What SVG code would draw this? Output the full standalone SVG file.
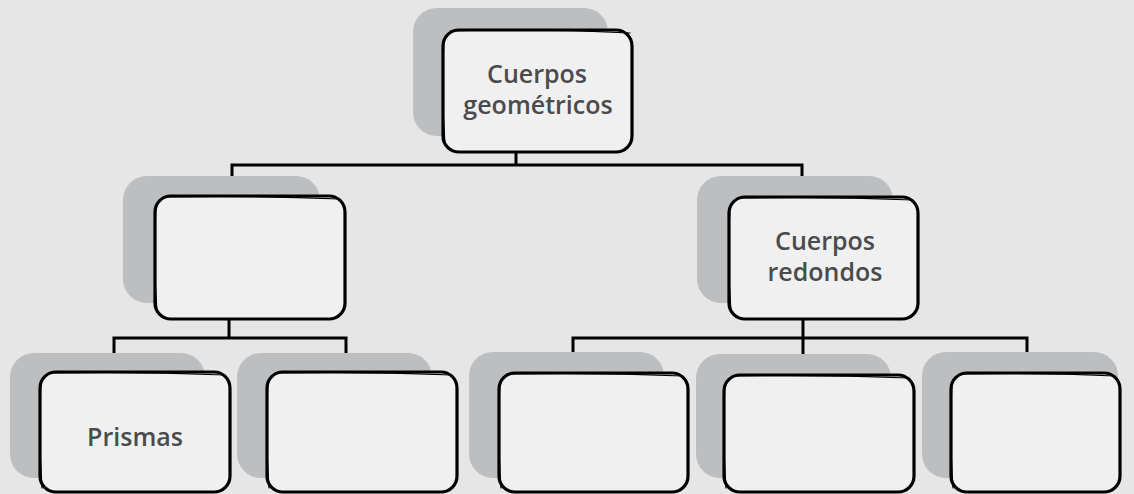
<svg xmlns="http://www.w3.org/2000/svg" width="1134" height="494" viewBox="0 0 1134 494">
<style>
.bg{fill:#e6e6e6}
.sh{fill:#bdbec0}
.bx{fill:#f0f0f0;stroke:#000;stroke-width:3.2;stroke-linejoin:round}
.sk{fill:none;stroke:#000;stroke-width:1.2;stroke-linecap:round}
.ln{fill:none;stroke:#000;stroke-width:3;stroke-linecap:square}
.t{font-family:"Open Sans","Noto Sans","Liberation Sans",sans-serif;font-size:25px;font-weight:600;fill:#4b4b4d;text-anchor:middle}
</style>
<rect class="bg" x="0" y="0" width="1134" height="494"/>
<g id="connectors">
<path class="ln" d="M516 152 V165 M232 165 H802 M232 165 V196 M802 165 V197"/>
<path class="ln" d="M229 319 V338 M114 338 H346 M114 338 V372 M346 338 V372"/>
<path class="ln" d="M803 319 V338 M573 338 H1027 M573 338 V373 M803 338 V375 M1027 338 V373"/>
</g>
<g id="node-top">
<rect class="sh" x="413" y="8" width="195" height="128" rx="24"/>
<rect class="bx" x="443" y="30" width="189" height="122" rx="16"/>
<path class="sk" d="M450 31 Q540 28 630 33 M444 40 Q441 90 445 145"/>
<text class="t" x="537" y="83">Cuerpos</text>
<text class="t" x="538" y="114">geométricos</text>
</g>
<g id="node-left">
<rect class="sh" x="123" y="176" width="197" height="127" rx="24"/>
<rect class="bx" x="155" y="196" width="190" height="123" rx="16"/>
<path class="sk" d="M163 197 Q250 195 340 199 M156 206 Q153 260 157 312"/>
</g>
<g id="node-right">
<rect class="sh" x="697" y="176" width="196" height="127" rx="24"/>
<rect class="bx" x="729" y="197" width="189" height="122" rx="16"/>
<path class="sk" d="M737 198 Q825 196 913 200 M730 207 Q727 260 731 312"/>
<text class="t" x="825" y="250">Cuerpos</text>
<text class="t" x="825" y="281">redondos</text>
</g>
<g id="node-b1">
<rect class="sh" x="10" y="353" width="195" height="125" rx="24"/>
<rect class="bx" x="40" y="372" width="190" height="120" rx="16"/>
<path class="sk" d="M48 373 Q135 371 225 375 M41 382 Q38 430 42 488"/>
<text class="t" x="135" y="446">Prismas</text>
</g>
<g id="node-b2">
<rect class="sh" x="237" y="353" width="195" height="125" rx="24"/>
<rect class="bx" x="267" y="372" width="190" height="120" rx="16"/>
<path class="sk" d="M275 373 Q362 371 452 375 M268 382 Q265 430 269 488"/>
</g>
<g id="node-b3">
<rect class="sh" x="469" y="352" width="195" height="126" rx="24"/>
<rect class="bx" x="499" y="373" width="189" height="119" rx="16"/>
<path class="sk" d="M507 374 Q594 372 683 376 M500 383 Q497 430 501 488"/>
</g>
<g id="node-b4">
<rect class="sh" x="696" y="354" width="195" height="124" rx="24"/>
<rect class="bx" x="724" y="375" width="190" height="117" rx="16"/>
<path class="sk" d="M732 376 Q819 374 909 378 M725 385 Q722 430 726 488"/>
</g>
<g id="node-b5">
<rect class="sh" x="922" y="352" width="196" height="126" rx="24"/>
<rect class="bx" x="951" y="373" width="169" height="119" rx="16"/>
<path class="sk" d="M959 374 Q1040 372 1115 376 M952 383 Q949 430 953 488"/>
</g>
</svg>
